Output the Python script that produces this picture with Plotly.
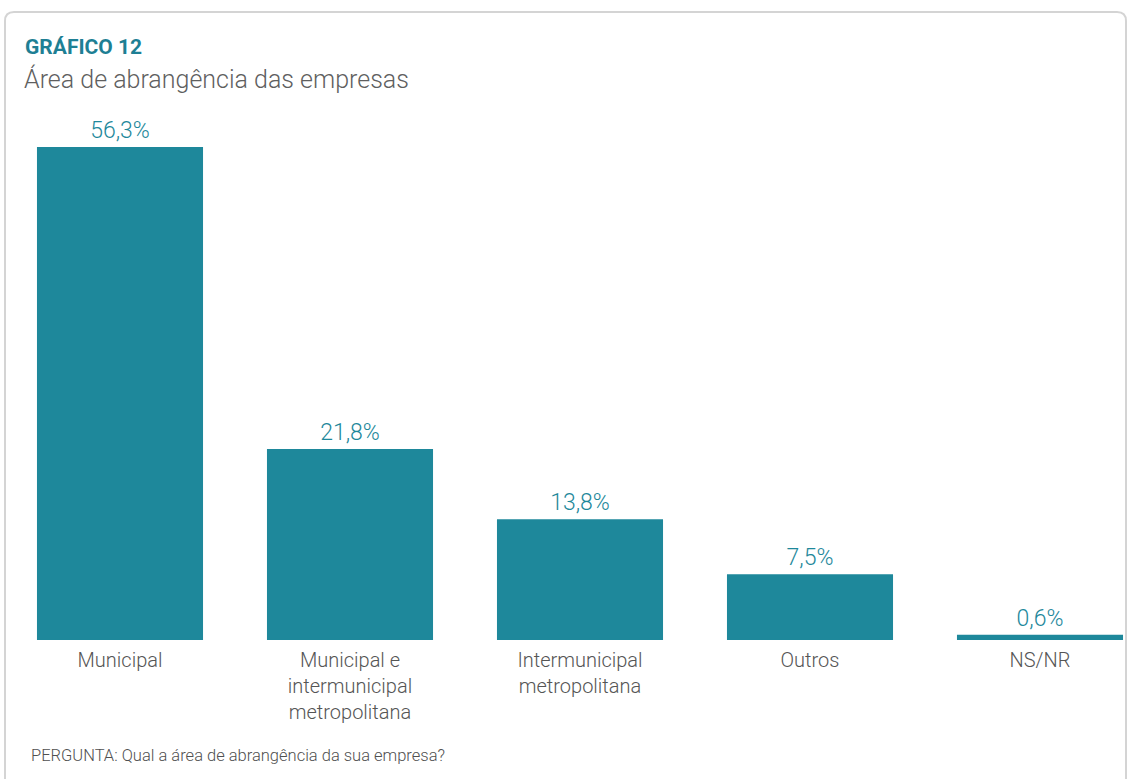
import plotly.graph_objects as go

categories = ["Municipal", "Municipal e<br>intermunicipal<br>metropolitana",
              "Intermunicipal<br>metropolitana", "Outros", "NS/NR"]
values = [56.3, 21.8, 13.8, 7.5, 0.6]

W, H = 1127, 779
L, R, T, B = 5, 0, 100, 139
PW, PH = W - L - R, H - T - B

def px(x):
    return (x - L) / PW

def py(y):
    return (H - B - y) / PH

TEAL = "#1e889b"
FONT = "Roboto"

fig = go.Figure()
fig.add_trace(go.Bar(
    x=list(range(len(categories))), y=values,
    marker=dict(color=TEAL, line=dict(width=0)),
    texttemplate="%{y:.1f}%", textposition="outside",
    textfont=dict(color=TEAL, size=23, family=FONT, weight=300),
    cliponaxis=False, width=0.722,
))

# rounded border
r = 9
x0, x1 = px(5), px(1126)
y0, y1 = py(12), py(820)
rx, ry = r / PW, r / PH
path = (f"M {x0},{y1} L {x0},{y0 - ry} Q {x0},{y0} {x0 + rx},{y0} "
        f"L {x1 - rx},{y0} Q {x1},{y0} {x1},{y0 - ry} L {x1},{y1}")
fig.add_shape(type="path", path=path, xref="paper", yref="paper",
              line=dict(color="#d4d4d4", width=2), layer="below")

fig.add_annotation(text="<b>GRÁFICO 12</b>", x=px(23), y=py(47), xref="paper", yref="paper",
                   xanchor="left", yanchor="middle", showarrow=False,
                   font=dict(size=21, color="#1e7f94", family=FONT))
fig.add_annotation(text="Área de abrangência das empresas", x=px(22), y=py(79), xref="paper", yref="paper",
                   xanchor="left", yanchor="middle", showarrow=False,
                   font=dict(size=25, color="#5f5f5f", family=FONT, weight=300))
fig.add_annotation(text="PERGUNTA: Qual a área de abrangência da sua empresa?", x=px(29), y=py(755),
                   xref="paper", yref="paper", xanchor="left", yanchor="middle", showarrow=False,
                   font=dict(size=16.5, color="#505050", family=FONT, weight=300))

fig.update_layout(
    width=W, height=H, margin=dict(l=L, r=R, t=T, b=B),
    paper_bgcolor="white", plot_bgcolor="white", showlegend=False,
    separators=",.",
    bargap=0.278,
    xaxis=dict(tickmode="array", tickvals=list(range(len(categories))), ticktext=categories,
               range=[-0.5, -0.5 + PW / 230], showgrid=False, zeroline=False, showline=False,
               ticks="", ticklabelstandoff=6,
               tickfont=dict(size=20, color="#555555", family=FONT, weight=300), fixedrange=True),
    yaxis=dict(range=[0, PH / 8.757], visible=False, fixedrange=True),
)

fig.write_html("out.html")
